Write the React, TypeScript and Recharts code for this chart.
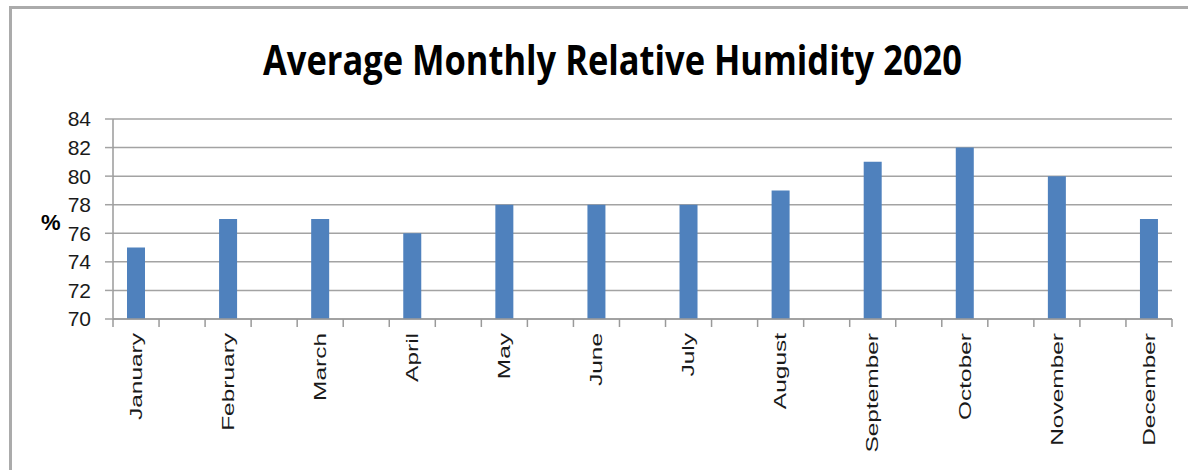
import React from "react";
import { BarChart, Bar, XAxis, YAxis, CartesianGrid } from "recharts";

const months = [
  "January", "February", "March", "April", "May", "June",
  "July", "August", "September", "October", "November", "December",
];
const humidity = [75, 77, 77, 76, 78, 78, 78, 79, 81, 82, 80, 77];
const yTicks = [70, 72, 74, 76, 78, 80, 82, 84];

// Excel-style layout: every month sits in its own slot with an empty slot between
const chartData: { slot: string; label: string; value: number | null }[] = [];
months.forEach((m, i) => {
  if (i > 0) chartData.push({ slot: `gap${i}`, label: "", value: null });
  chartData.push({ slot: m, label: m, value: humidity[i] });
});

const W = 1188;
const H = 470;
const M = { top: 119, right: 16, bottom: 11, left: 53 };
const Y_W = 60;
const X_H = 140;
const plotW = W - M.left - M.right - Y_W;
const band = plotW / chartData.length;
const axisY = M.top + (H - M.top - M.bottom - X_H);
const FONT = "'Liberation Sans', Arial, sans-serif";

const MonthTick = (props: any) => {
  const { x, y, index } = props;
  const label = chartData[index]?.label;
  const left = x - band / 2;
  const right = x + band / 2;
  return (
    <g>
      <line x1={left} x2={left} y1={axisY} y2={axisY + 8} stroke="#9a9a9a" strokeWidth={1.5} />
      {index === chartData.length - 1 && (
        <line x1={right} x2={right} y1={axisY} y2={axisY + 8} stroke="#9a9a9a" strokeWidth={1.5} />
      )}
      {label && (
        <text
          x={0}
          y={0}
          dy="0.36em"
          transform={`translate(${x}, ${y}) rotate(-90) scale(1.53, 1)`}
          textAnchor="end"
          fontSize={16}
          fill="#1a1a1a"
          style={{ fontFamily: FONT }}
        >
          {label}
        </text>
      )}
    </g>
  );
};

export default function App() {
  return (
    <div style={{ position: "absolute", left: 0, top: 0, width: W, height: H, background: "#fff", overflow: "hidden" }}>
      <div
        style={{
          position: "absolute",
          left: 9,
          top: 6,
          width: W,
          height: H,
          borderTop: "3px solid #ababab",
          borderLeft: "3px solid #ababab",
        }}
      />
      <BarChart
        width={W}
        height={H}
        data={chartData}
        margin={M}
        barCategoryGap={0}
        style={{ position: "absolute", left: 0, top: 0 }}
      >
        <CartesianGrid vertical={false} stroke="#a3a3a3" strokeWidth={1.5} />
        <XAxis
          dataKey="slot"
          interval={0}
          height={X_H}
          tickSize={8}
          tickMargin={6}
          tickLine={false}
          axisLine={{ stroke: "#9a9a9a", strokeWidth: 1.5 }}
          tick={<MonthTick />}
        />
        <YAxis
          domain={[70, 84]}
          ticks={yTicks}
          interval={0}
          width={Y_W}
          tickSize={8}
          tickMargin={14}
          axisLine={{ stroke: "#9a9a9a", strokeWidth: 1.5 }}
          tickLine={{ stroke: "#a3a3a3", strokeWidth: 1.5 }}
          tick={{ fontSize: 21, fill: "#1a1a1a", fontFamily: FONT }}
        />
        <Bar dataKey="value" fill="#4f81bd" barSize={18} isAnimationActive={false} />
      </BarChart>
      <svg width={W} height={H} style={{ position: "absolute", left: 0, top: 0, pointerEvents: "none" }}>
        <text
          x={263}
          y={75}
          fontSize={42}
          fontWeight="bold"
          textLength={699}
          lengthAdjust="spacingAndGlyphs"
          fill="#000"
          style={{ fontFamily: "'Open Sans', sans-serif" }}
        >
          Average Monthly Relative Humidity 2020
        </text>
        <text
          x={41}
          y={230}
          fontSize={22}
          fontWeight="bold"
          fill="#000"
          style={{ fontFamily: FONT }}
        >
          %
        </text>
      </svg>
    </div>
  );
}
